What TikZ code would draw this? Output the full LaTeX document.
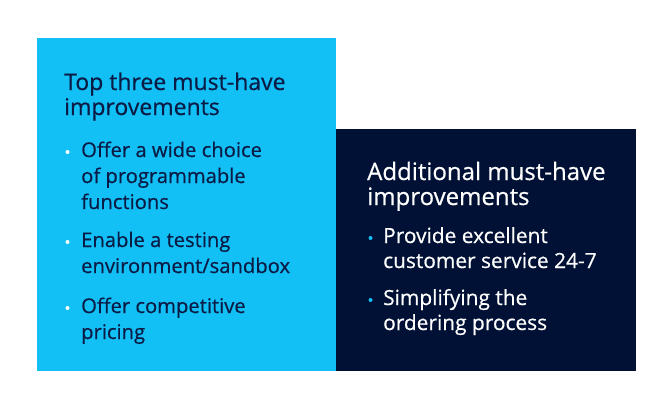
\documentclass[tikz,border=0pt]{standalone}
\usepackage{fontspec}
\setmainfont{Open Sans}[FakeBold=0.5]
\definecolor{lightblue}{HTML}{12C0F5}
\definecolor{navy}{HTML}{001135}
\definecolor{navytext}{HTML}{0A1B45}
\begin{document}
\begin{tikzpicture}[x=1pt,y=-1pt,
  panel/.style={fill=#1,draw=none},
  ttl/.style={anchor=base west,inner sep=0pt,font=\fontsize{23}{25}\selectfont},
  itm/.style={anchor=base west,inner sep=0pt,font=\fontsize{20.2}{26}\selectfont},
  rttl/.style={anchor=base west,inner sep=0pt,font=\fontsize{24}{25}\selectfont},
  ritm/.style={anchor=base west,inner sep=0pt,font=\fontsize{20.9}{26}\selectfont},
  dot/.style={circle,fill=#1,inner sep=0pt,minimum size=4pt}]
\useasboundingbox[fill=white] (0,0) rectangle (672,415);
\fill[panel=lightblue] (37,38) rectangle (336,371);
\fill[panel=navy] (336,129) rectangle (636,371);
% left panel
\begin{scope}[text=navytext]
\node[ttl] (lt1) at (64,90) {Top three must-have};
\node[ttl] (lt2) at (64,115) {improvements};
\node[dot=white] (ld1) at (67.5,152) {};
\node[itm] (l11) at (81,157) {Offer a wide choice};
\node[itm] (l12) at (81,183) {of programmable};
\node[itm] (l13) at (81,209) {functions};
\node[dot=white] (ld2) at (67.5,242) {};
\node[itm] (l21) at (81,247) {Enable a testing};
\node[itm] (l22) at (81,273) {environment/sandbox};
\node[dot=white] (ld3) at (67.5,308) {};
\node[itm] (l31) at (81,313) {Offer competitive};
\node[itm] (l32) at (81,339) {pricing};
\end{scope}
% right panel
\begin{scope}[text=white]
\node[rttl] (rt1) at (367,180) {Additional must-have};
\node[rttl] (rt2) at (367,205) {improvements};
\node[dot=lightblue] (rd1) at (370.5,238) {};
\node[ritm] (r11) at (383,243) {Provide excellent};
\node[ritm] (r12) at (383,268) {customer service 24-7};
\node[dot=lightblue] (rd2) at (370.5,300) {};
\node[ritm] (r21) at (383,305) {Simplifying the};
\node[ritm] (r22) at (383,330) {ordering process};
\end{scope}
\end{tikzpicture}
\end{document}
